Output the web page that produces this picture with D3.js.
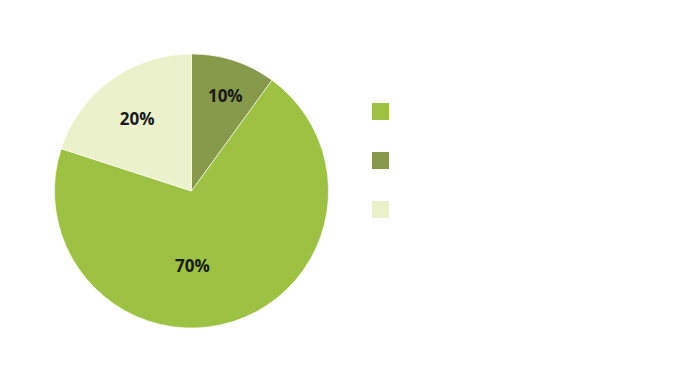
<!DOCTYPE html>
<html>
<head>
<meta charset="utf-8">
<script src="https://cdn.jsdelivr.net/npm/d3@7"></script>
<style>
  body { margin: 0; background: #fff; }
  svg { display: block; }
</style>
</head>
<body>
<div id="chart"></div>
<script>
// slices, clockwise from 12 o'clock
var shares = [10, 70, 20];
var sliceColors = ["#87994a", "#9dc142", "#ebf2cb"];
// legend lists the slices in this order
var legendOrder = [1, 0, 2];

var width = 680, height = 384;
var cx = 191.5, cy = 191, radius = 137;
var labelRadius = 90;
// Excel "best fit" pushes labels off the centroid a bit
var labelNudge = [[6, -10], [-27, -11], [-1.5, 1]];

var svg = d3.select("#chart")
  .append("svg")
  .attr("width", width)
  .attr("height", height);

var pie = d3.pie().sort(null).value(function(d){ return d; });
var arcs = pie(shares);

var arc = d3.arc().innerRadius(0).outerRadius(radius);
var labelArc = d3.arc().innerRadius(labelRadius).outerRadius(labelRadius);

var g = svg.append("g")
  .attr("transform", "translate(" + cx + "," + cy + ")");

g.selectAll("path")
  .data(arcs)
  .enter().append("path")
  .attr("d", arc)
  .attr("fill", function(d, i){ return sliceColors[i]; })
  .attr("stroke", "#ffffff")
  .attr("stroke-width", 0.6);

g.selectAll("text")
  .data(arcs)
  .enter().append("text")
  .attr("x", function(d, i){ return labelArc.centroid(d)[0] + labelNudge[i][0]; })
  .attr("y", function(d, i){ return labelArc.centroid(d)[1] + labelNudge[i][1]; })
  .attr("dy", "0.36em")
  .attr("text-anchor", "middle")
  .style("font-family", "'Open Sans', sans-serif")
  .style("font-weight", "bold")
  .style("font-size", "17px")
  .style("fill", "#1a1a1a")
  .text(function(d){ return d.data + "%"; });

// legend swatches (no text in the original)
svg.selectAll("rect.legend")
  .data(legendOrder)
  .enter().append("rect")
  .attr("class", "legend")
  .attr("x", 372)
  .attr("y", function(d, i){ return 103 + i * 49; })
  .attr("width", 17)
  .attr("height", 17)
  .attr("fill", function(d){ return sliceColors[d]; });
</script>
</body>
</html>
